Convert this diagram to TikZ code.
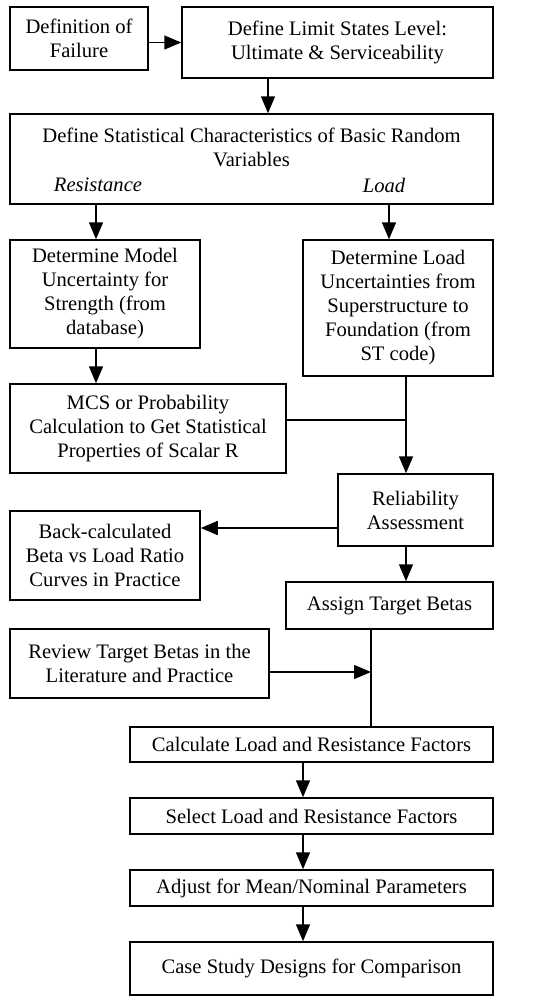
\documentclass[tikz,border=0pt]{standalone}
\usepackage{fontspec}
\setmainfont{Liberation Serif}
\usepackage{tikz}
\usetikzlibrary{calc, arrows.meta, positioning}

\begin{document}
\begin{tikzpicture}[
        x=0.5pt, y=-0.5pt,
        box/.style={rectangle, draw, line width=0.75pt, inner sep=2pt, align=center, font=\fontsize{10.3}{12}\selectfont},
        arrow/.style={-{Triangle[length=8.5pt, width=7pt]}, line width=0.75pt},
        line/.style={line width=0.75pt}
    ]
        \useasboundingbox (0,0) rectangle (545,996);

        \node[box, minimum width=69pt, minimum height=31.5pt] (fail) at (79,38.5) {Definition of\\Failure};
        \node[box, minimum width=155.5pt, minimum height=35.5pt] (limit) at (337.5,42.5) {Define Limit States Level:\\Ultimate \& Serviceability};
        \node[box, minimum width=241.5pt, minimum height=45pt] (stat) at (251.5,159) {Define Statistical Characteristics of Basic Random\\Variables\\\mbox{}};
        \node[font=\fontsize{10.3}{12}\selectfont\itshape] (res) at (98,185) {Resistance};
        \node[font=\fontsize{10.3}{12}\selectfont\itshape] (load) at (384,185) {Load};
        \node[box, minimum width=95pt, minimum height=54pt] (model) at (105,294) {Determine Model\\Uncertainty for\\Strength (from\\database)};
        \node[box, minimum width=95pt, minimum height=68pt] (loadu) at (398,308) {Determine Load\\Uncertainties from\\Superstructure to\\Foundation (from\\ST code)};
        \node[box, minimum width=138pt, minimum height=44.5pt] (mcs) at (148,428.5) {MCS or Probability\\Calculation to Get Statistical\\Properties of Scalar R};
        \node[box, minimum width=77.5pt, minimum height=36pt] (rel) at (415.5,510) {Reliability\\Assessment};
        \node[box, minimum width=95pt, minimum height=44.5pt] (back) at (105,555.5) {Back-calculated\\Beta vs Load Ratio\\Curves in Practice};
        \node[box, minimum width=103.5pt, minimum height=23.5pt] (assign) at (389.5,605.5) {Assign Target Betas};
        \node[box, minimum width=129.5pt, minimum height=34.5pt] (review) at (139.5,663.5) {Review Target Betas in the\\Literature and Practice};
        \node[box, minimum width=181.5pt, minimum height=17.5pt] (calc) at (311.5,744.5) {Calculate Load and Resistance Factors};
        \node[box, minimum width=181.5pt, minimum height=18pt] (select) at (311.5,816) {Select Load and Resistance Factors};
        \node[box, minimum width=181.5pt, minimum height=18pt] (adjust) at (311.5,888) {Adjust for Mean/Nominal Parameters};
        \node[box, minimum width=181.5pt, minimum height=26.5pt] (case) at (311.5,968.5) {Case Study Designs for Comparison};

        % columns and junctions
        \coordinate (xt) at (268,0);
        \coordinate (xr) at (96,0);
        \coordinate (xl) at (389,0);
        \coordinate (xm) at (303,0);
        \coordinate (j1) at (406,420);
        \coordinate (j2) at (0,528);
        \coordinate (j3) at (371,672);

        \draw[arrow] (fail.east |- limit.west) -- (limit.west);
        \draw[arrow] (limit.south -| xt) -- (stat.north -| xt);
        \draw[arrow] (stat.south -| xr) -- (model.north -| xr);
        \draw[arrow] (stat.south -| xl) -- (loadu.north -| xl);
        \draw[arrow] (model.south -| xr) -- (mcs.north -| xr);
        \draw[line] (mcs.east |- j1) -- (j1);
        \draw[arrow] (loadu.south -| j1) -- (rel.north -| j1);
        \draw[arrow] (rel.west |- j2) -- (back.east |- j2);
        \draw[arrow] (rel.south -| j1) -- (assign.north -| j1);
        \draw[line] (assign.south -| j3) -- (calc.north -| j3);
        \draw[arrow] (review.east |- j3) -- (j3);
        \draw[arrow] (calc.south -| xm) -- (select.north -| xm);
        \draw[arrow] (select.south -| xm) -- (adjust.north -| xm);
        \draw[arrow] (adjust.south -| xm) -- (case.north -| xm);
    \end{tikzpicture}
\end{document}
